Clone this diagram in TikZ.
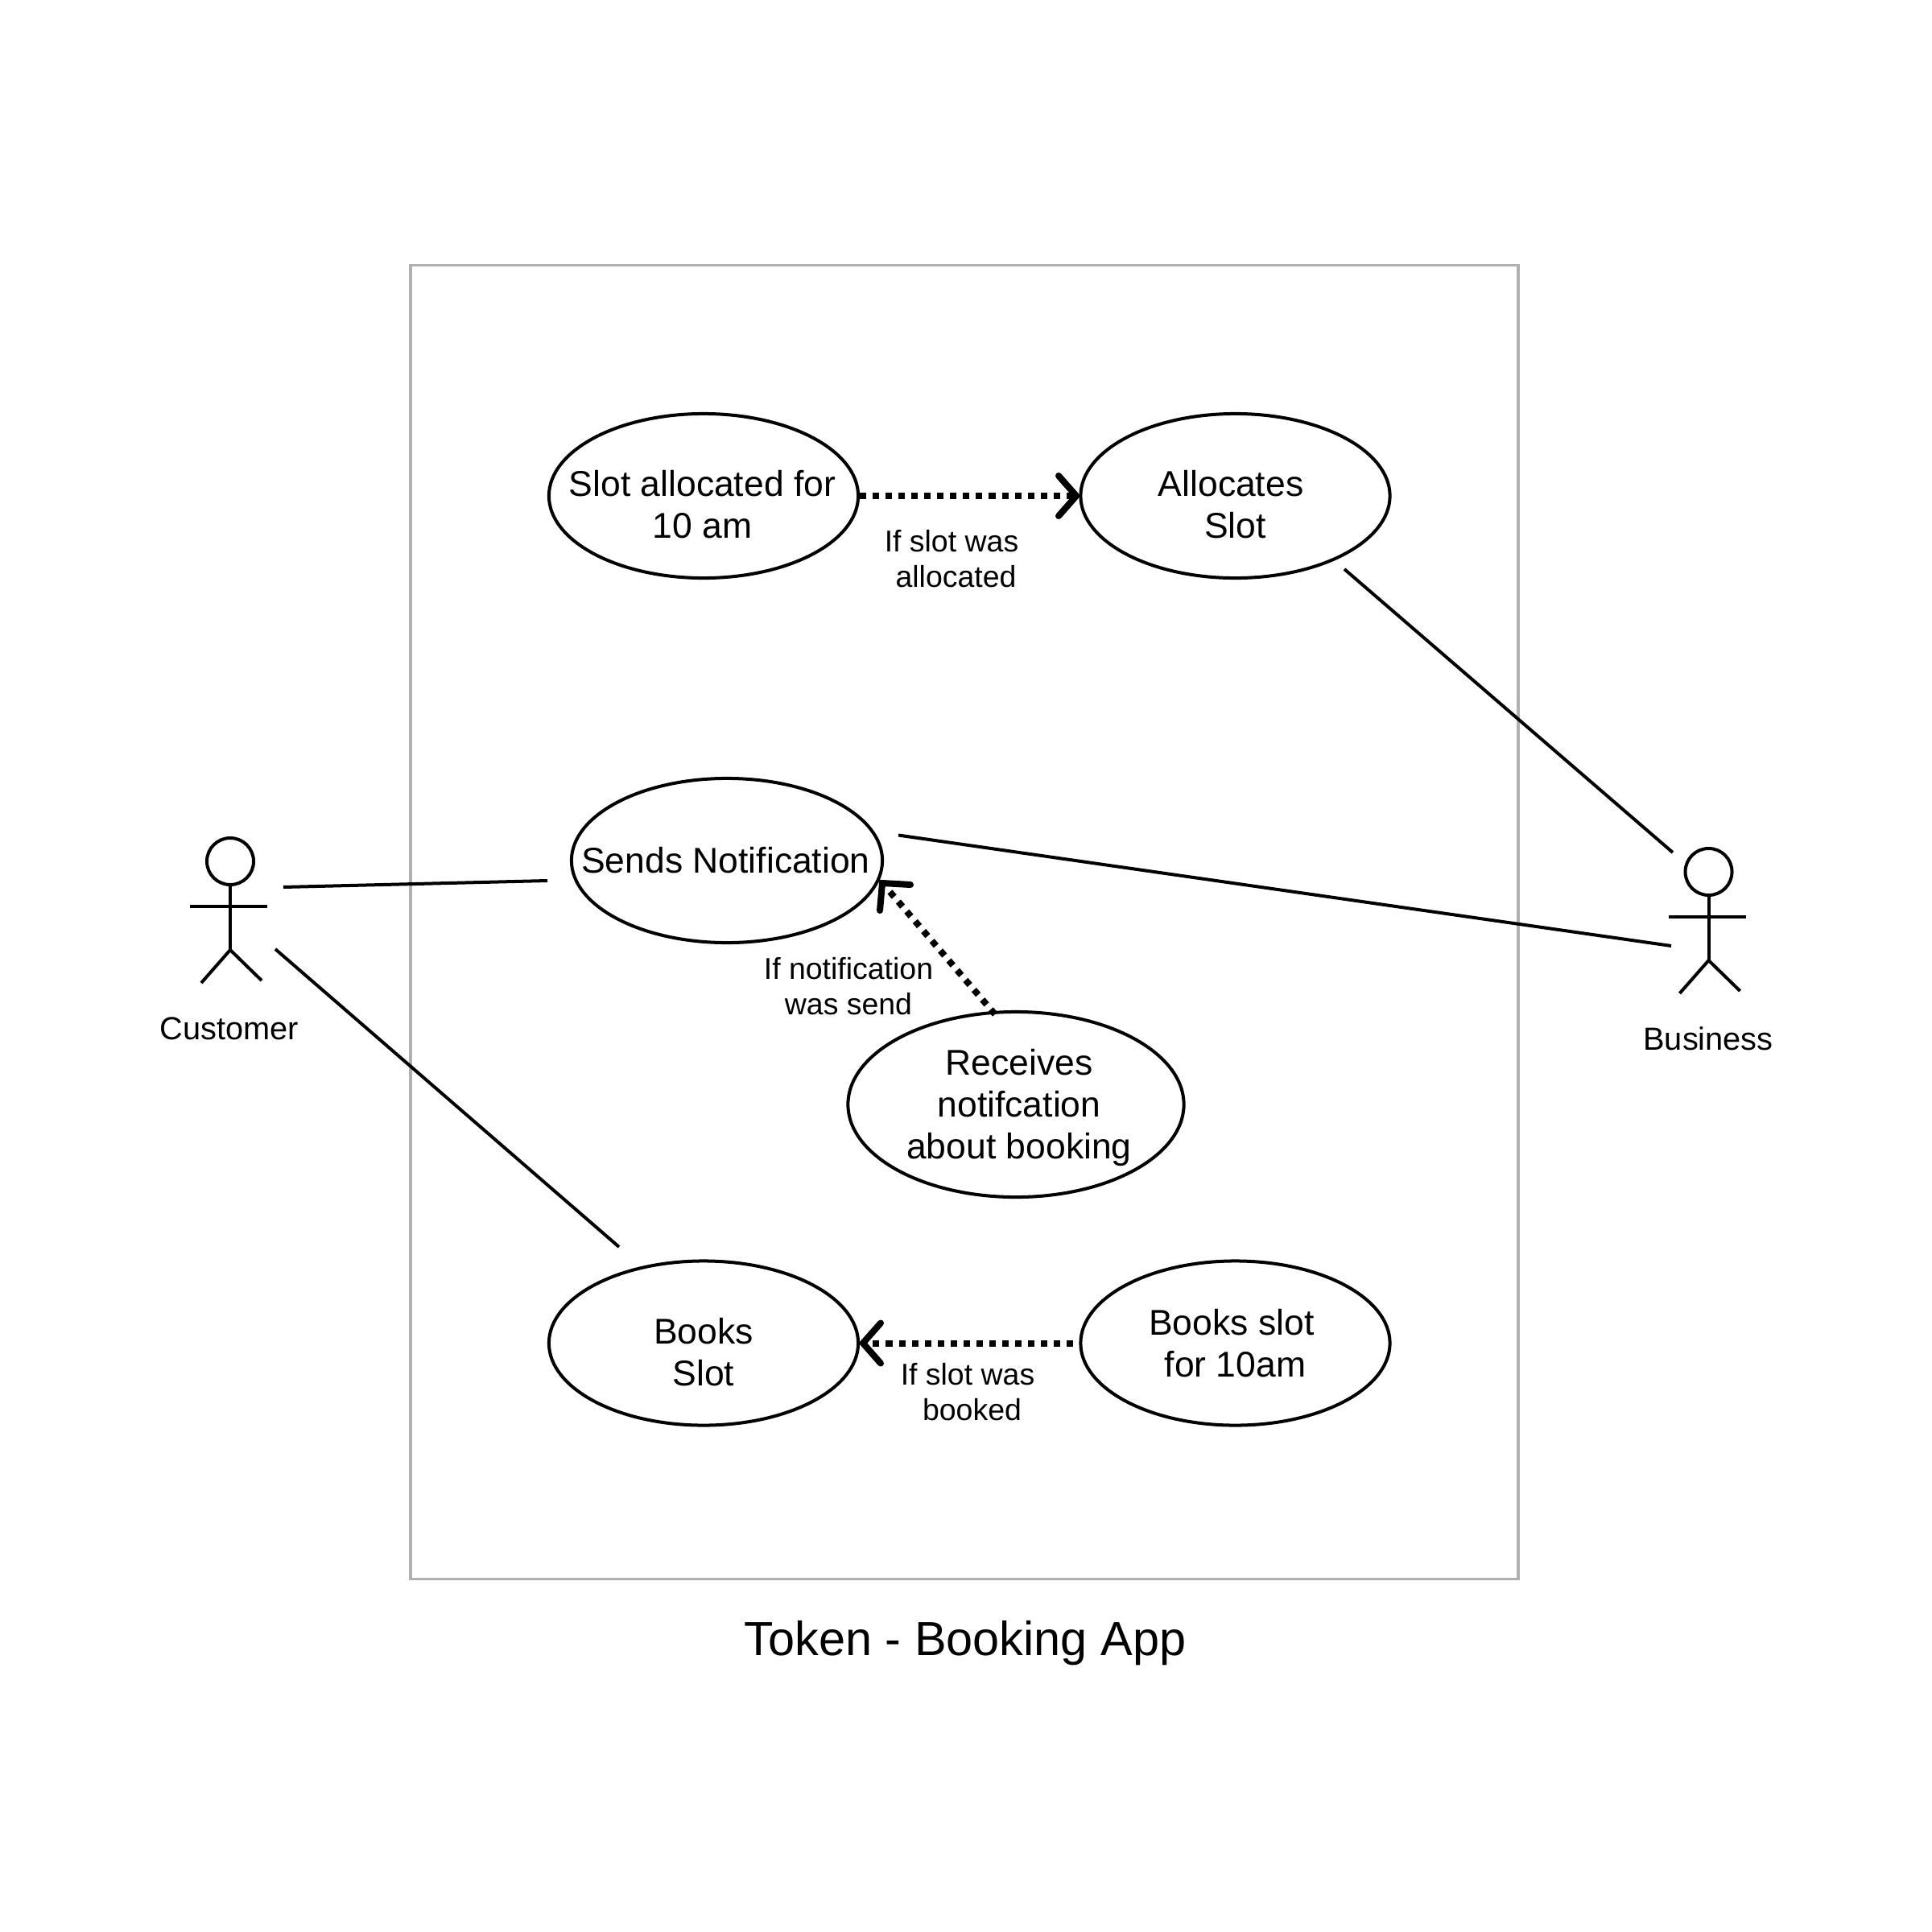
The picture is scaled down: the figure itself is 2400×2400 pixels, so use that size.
\documentclass[tikz,border=0pt]{standalone}
\usepackage{fontspec}
\setmainfont{Liberation Sans}
\usetikzlibrary{shapes.geometric}
\tikzset{
  px/.style={x=0.01cm,y=-0.01cm},
  thinln/.style={line width=1.14pt,black},
  frame/.style={draw=framegray,line width=1.1pt},
  usecase/.style={ellipse,draw=black,line width=1.14pt,fill=none,inner sep=0pt},
  uctext/.style={inner sep=0pt,align=center,font=\fontsize{12.65}{14.8}\selectfont},
  lbl/.style={inner sep=0pt,align=center,font=\fontsize{10.65}{12.5}\selectfont},
  dep/.style={line width=2.28pt,dash pattern=on 2.28pt off 2.28pt,black},
  head/.style={line width=2.28pt,line cap=round,line join=miter,black},
  headcircle/.style={circle,draw=black,line width=1.14pt,inner sep=0pt,minimum size=0.58cm},
}
\definecolor{framegray}{HTML}{B0B0B0}
\begin{document}
\begin{tikzpicture}[px]
\useasboundingbox (0,0) rectangle (2400,2400);
\fill[white] (0,0) rectangle (2400,2400);
\node[frame,draw,minimum width=13.76cm,minimum height=16.31cm,inner sep=0pt] (system) at (1198,1145.5) {};
\node[font=\fontsize{16.9}{20}\selectfont,inner sep=0pt] (title) at (1199,2041) {Token - Booking App};

\node[usecase,minimum width=3.84cm,minimum height=2.04cm,label={[uctext,yshift=-0.107cm,xshift=-0.015cm]center:Slot allocated for\\10 am}] (slotalloc) at (874,616) {};
\node[usecase,minimum width=3.84cm,minimum height=2.04cm,label={[uctext,yshift=-0.107cm]center:Allocates\rule{0.108cm}{0pt}\\Slot}] (allocates) at (1534.5,616) {};
\node[usecase,minimum width=3.86cm,minimum height=2.04cm,label={[uctext,xshift=-0.015cm]center:Sends Notification}] (sends) at (903,1069) {};
\node[usecase,minimum width=4.17cm,minimum height=2.30cm,label={[uctext,yshift=-0.04cm]center:\hspace{0.08cm}Receives\\\hspace{0.08cm}notifcation\\\hspace{0.08cm}about booking}] (receives) at (1262,1372) {};
\node[usecase,minimum width=3.84cm,minimum height=2.04cm,label={[uctext,yshift=-0.115cm]center:Books\\Slot}] (books) at (874,1668.5) {};
\node[usecase,minimum width=3.84cm,minimum height=2.04cm,label={[uctext]center:Books slot\rule{0.092cm}{0pt}\\for 10am}] (booksten) at (1534.5,1668.5) {};

\node[lbl] (l1) at (1185,694) {If slot was\rule{0.06cm}{0pt}\\\hspace{0.05cm}allocated};
\node[lbl] (l2) at (1054,1225) {If notification\\was send};
\node[lbl] (l3) at (1205,1729) {If slot was\rule{0.06cm}{0pt}\\\hspace{0.05cm}booked};

% Customer
\node[headcircle] (chead) at (286,1070) {};
\coordinate (chip) at (286,1180);
\draw[thinln] (chead.south) -- (chip);
\draw[thinln] (236,1126) -- (332,1126);
\draw[thinln] (250,1221) -- (chip) -- (325,1218);
\node[lbl,font=\fontsize{11.3}{13}\selectfont] (clabel) at (285,1278) {Customer};

% Business
\node[headcircle] (bhead) at (2122.5,1083) {};
\coordinate (bhip) at (2122.5,1193);
\draw[thinln] (bhead.south) -- (bhip);
\draw[thinln] (2072.5,1139) -- (2168.5,1139);
\draw[thinln] (2086.5,1234) -- (bhip) -- (2161.5,1231);
\node[lbl,font=\fontsize{11.3}{13}\selectfont] (blabel) at (2122,1290) {Business};

% Free connector ends
\coordinate (c1a) at (352,1102);
\coordinate (c1b) at (680,1094);
\coordinate (c2a) at (342,1179);
\coordinate (c2b) at (769,1549);
\coordinate (c3a) at (1670,707);
\coordinate (c3b) at (2078,1059);
\coordinate (c4a) at (1116,1037.5);
\coordinate (c4b) at (2076,1175);
\draw[thinln] (c1a) -- (c1b);
\draw[thinln] (c2a) -- (c2b);
\draw[thinln] (c3a) -- (c3b);
\draw[thinln] (c4a) -- (c4b);

% Dependencies
\coordinate (t1) at (1337,616);
\draw[dep] (slotalloc.east) -- (1332,616);
\draw[head] (1315,591) -- (t1) -- (1315,641);

\coordinate (t2) at (1096,1097);
\coordinate (s2) at (1236,1260);
\draw[dep] (s2) -- (1103,1105);
\draw[head] (1131,1099) -- (t2) -- (1093,1131);

\coordinate (t3) at (1072,1668.5);
\coordinate (s3) at (1333,1668.5);
\draw[dep] (s3) -- (1076,1668.5);
\draw[head] (1094,1643.5) -- (t3) -- (1094,1693.5);
\end{tikzpicture}
\end{document}
